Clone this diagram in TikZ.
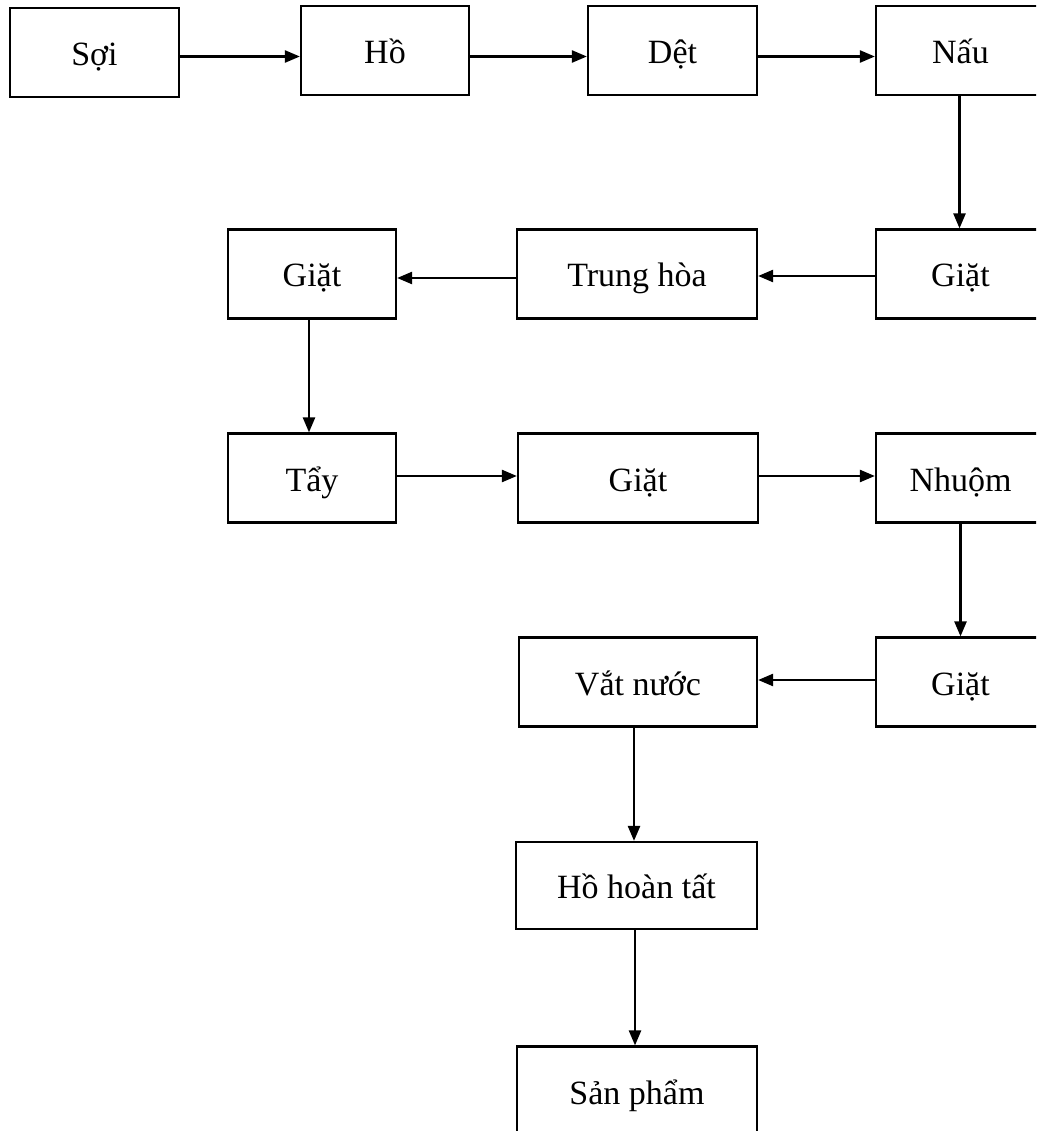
\documentclass[tikz,border=0pt]{standalone}
\usepackage{fontspec}
\setmainfont{Liberation Serif}
\usetikzlibrary{arrows.meta}
\begin{document}
\begin{tikzpicture}[x=1pt,y=-1pt,
  box/.style={draw,line width=2.2pt,rectangle,inner sep=0pt,minimum height=89pt,text height=30pt,text depth=4pt,font=\fontsize{34}{40}\selectfont},
  flow/.style={line width=2.4pt,-{Triangle[length=15pt,width=12pt]}}]
\useasboundingbox (0,0) rectangle (1036,1131);
\clip (0,0) rectangle (1036,1131);
\node[box,minimum width=169pt] (soi) at (94.5,52.5) {Sợi};
\node[box,minimum width=168pt] (ho) at (385,50.5) {Hồ};
\node[box,minimum width=169pt] (det) at (672.5,50.5) {Dệt};
\node[box,minimum width=169pt] (nau) at (960.5,50.5) {Nấu};
\node[box,minimum width=169pt] (giatA) at (960.5,274) {Giặt};
\node[box,minimum width=240pt] (trung) at (637,274) {Trung hòa};
\node[box,minimum width=168pt] (giatB) at (312,274) {Giặt};
\node[box,minimum width=168pt] (tay) at (312,478) {Tẩy};
\node[box,minimum width=240pt] (giatC) at (638,478) {Giặt};
\node[box,minimum width=169pt] (nhuom) at (960.5,478) {Nhuộm};
\node[box,minimum width=169pt] (giatD) at (960.5,682) {Giặt};
\node[box,minimum width=238pt] (vat) at (638,682) {Vắt nước};
\node[box,minimum width=241pt,minimum height=87pt] (hht) at (636.5,885.5) {Hồ hoàn tất};
\node[box,minimum width=240pt] (sp) at (637,1091) {Sản phẩm};
\draw[flow] ([yshift=-4pt]soi.east) -- ([yshift=-4pt]soi.east -| ho.west);
\draw[flow] ([yshift=-6pt]ho.east) -- ([yshift=-6pt]ho.east -| det.west);
\draw[flow] ([yshift=-6pt]det.east) -- ([yshift=-6pt]det.east -| nau.west);
\draw[flow] ([xshift=-1pt]nau.south) -- ([xshift=-1pt]nau.south |- giatA.north);
\draw[flow] ([yshift=-2pt]giatA.west) -- ([yshift=-2pt]giatA.west -| trung.east);
\draw[flow] ([yshift=-4pt]trung.west) -- ([yshift=-4pt]trung.west -| giatB.east);
\draw[flow] ([xshift=-3pt]giatB.south) -- ([xshift=-3pt]giatB.south |- tay.north);
\draw[flow] ([yshift=2pt]tay.east) -- ([yshift=2pt]tay.east -| giatC.west);
\draw[flow] ([yshift=2pt]giatC.east) -- ([yshift=2pt]giatC.east -| nhuom.west);
\draw[flow] ([xshift=0pt]nhuom.south) -- ([xshift=0pt]nhuom.south |- giatD.north);
\draw[flow] ([yshift=2pt]giatD.west) -- ([yshift=2pt]giatD.west -| vat.east);
\draw[flow] ([xshift=-4pt]vat.south) -- ([xshift=-4pt]vat.south |- hht.north);
\draw[flow] ([xshift=-1.5pt]hht.south) -- ([xshift=-1.5pt]hht.south |- sp.north);
\end{tikzpicture}
\end{document}
